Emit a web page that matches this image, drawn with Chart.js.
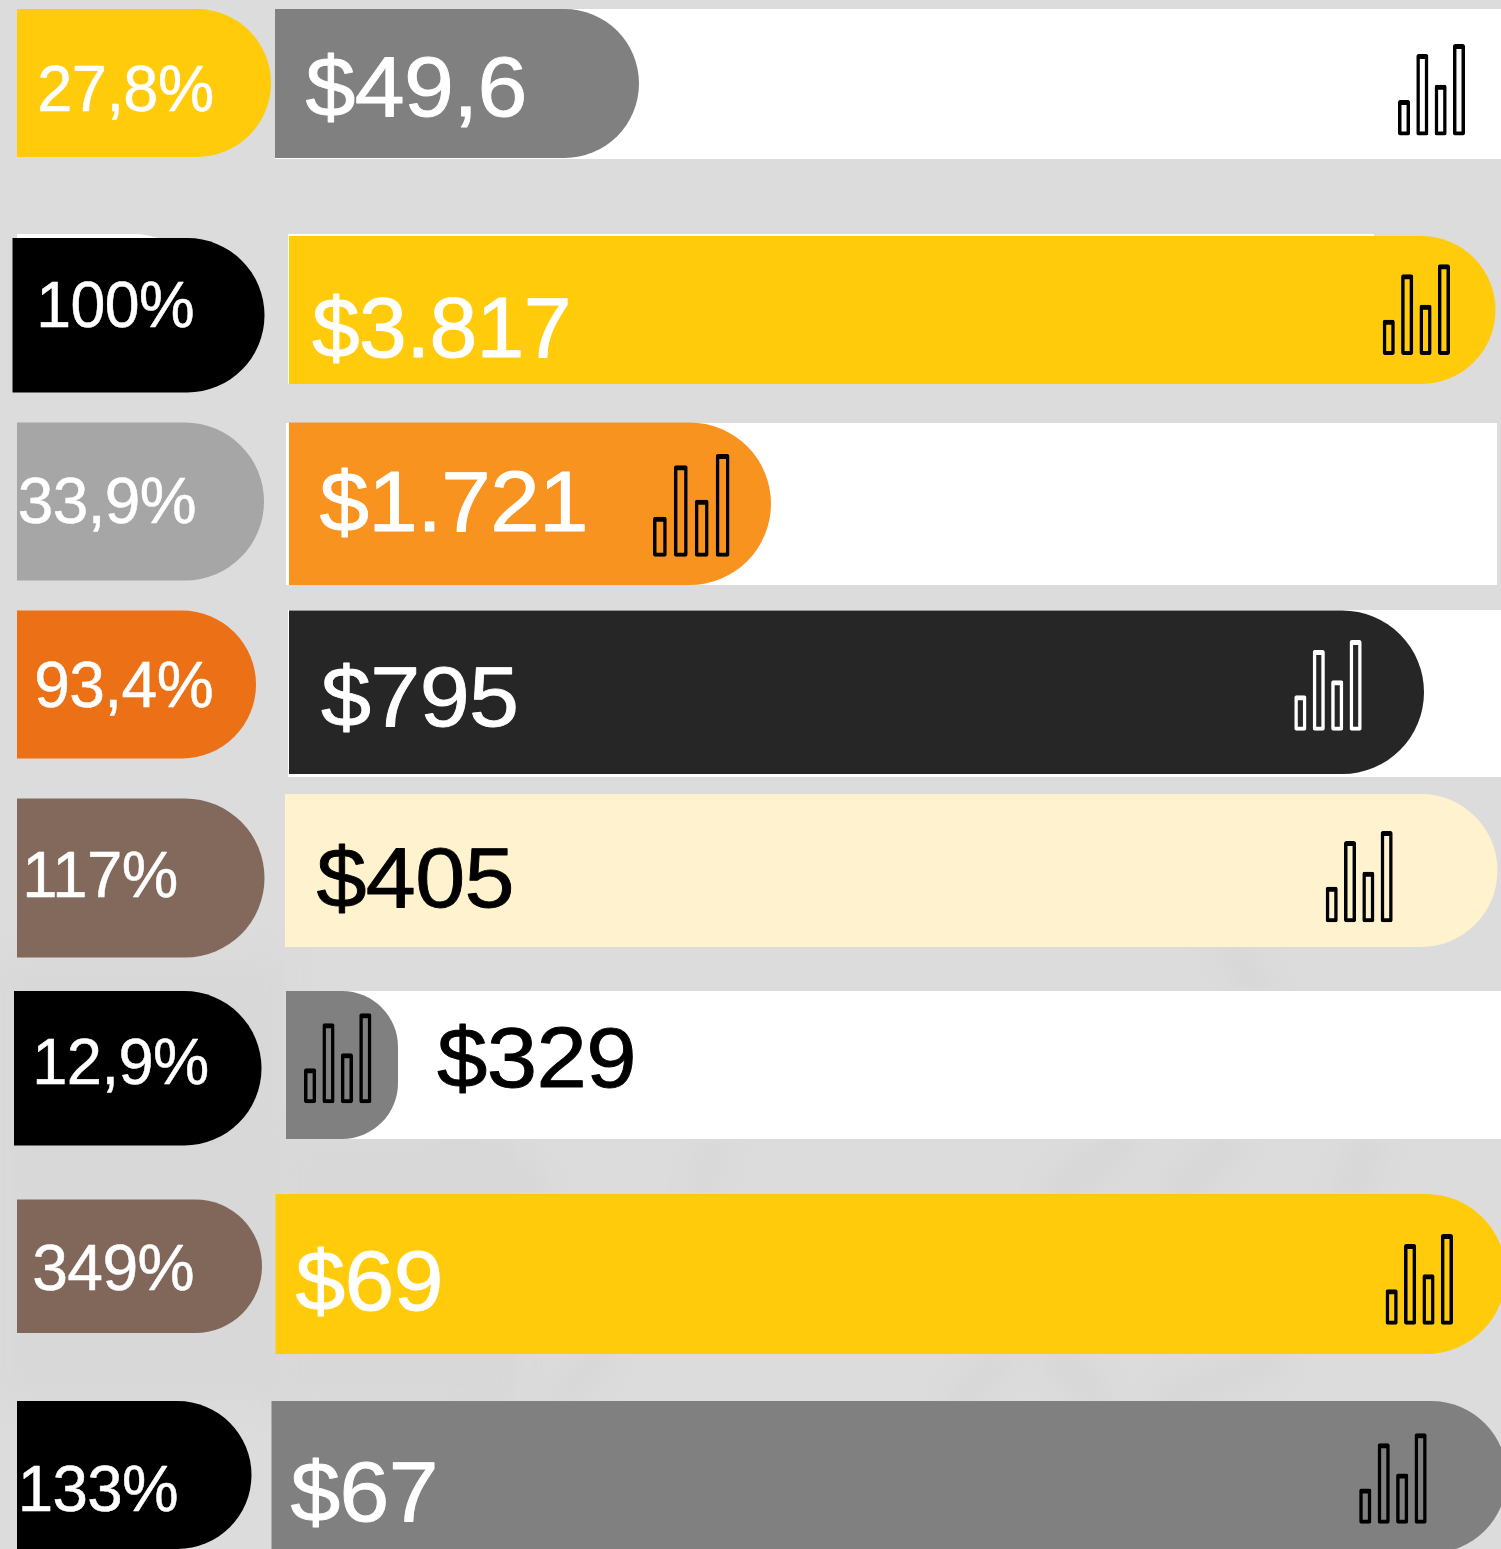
<!DOCTYPE html>
<html><head><meta charset="utf-8">
<script src="https://cdn.jsdelivr.net/npm/chart.js@4"></script>
<style>html,body{margin:0;padding:0;background:#dcdcdc}canvas{display:block}</style>
</head><body><canvas id="c" width="1501" height="1549"></canvas>
<script>
// ---- text values
const percentLabels = ['27,8%','100%','33,9%','93,4%','117%','12,9%','349%','133%'];
const dollarLabels  = ['$49,6','$3.817','$1.721','$795','$405','$329','$69','$67'];
// ---- bar extents
const pillStart  = [17,12.5,17,17,17,14,17,17];
const pillEnd    = [271,264.5,264,256,264.5,261.5,262,251.5];
const valueStart = [275,289,289,289,285,286,275.5,271.5];
const valueEnd   = [639,1495.5,771,1424,1497.5,398,1506,1507];
const trackStart = [275,288,286,288,null,286,null,null];
const trackEnd   = [1501,1374,1497,1501,null,1501,null,null];
// ---- vertical layout (top / bottom of each bar)
const pillTop     = [9,238,422.5,610.5,798.5,991,1199.5,1401];
const pillBottom  = [157,392.5,580.5,758.5,957.5,1145.5,1333,1549];
const valueTop    = [9,236,422.5,610.5,794,991,1194,1401];
const valueBottom = [158,384,585,774,947,1139,1354,1553];
const trackTop    = [9,234,423,610,null,991,null,null];
const trackBottom = [159,384,585,777,null,1139,null,null];
// ---- styles
const pillColors  = ['#FFCB0A','#000000','#A6A6A6','#EC7016','#82695B','#000000','#806759','#000000'];
const valueColors = ['#808080','#FFCB0A','#F9931F','#262626','#FFF2CE','#808080','#FFCB0A','#808080'];
const dollarText  = ['#fff','#fff','#fff','#fff','#000','#000','#fff','#fff'];
const iconColors  = ['#000','#000','#000','#fff','#000','#000','#000','#000'];
// ---- text layout: left, right, baseline
const pctLeft  = [40,40,19.5,37,26,36,34,21.5];
const pctRight = [212.5,193,195,212,176.5,207.5,193,177];
const pctBase  = [111,326.5,522.5,706.5,896.5,1084,1289.5,1510.5];
const valLeft  = [305,311.5,319,320.5,316,436.5,295,290];
const valRight = [525,568,585,516.5,512,633,440,435];
const valBase  = [115.5,356.5,530.5,725.5,907,1087,1310,1521];
// ---- icon layout: left, right, top, bottom
const iconLeft   = [1398,1382.7,653,1294.3,1325.7,304,1385.6,1359.2];
const iconRight  = [1465,1450,729.5,1361.7,1392.7,371.4,1453,1426.7];
const iconTop    = [44,264.3,454,640,831,1013.3,1234,1433.3];
const iconBottom = [135.6,355,556.7,730.7,922.3,1103.3,1324.7,1523.7];
const iconBarHeights = [0.39,0.89,0.555,1];   // share of the icon's height
// ---- faint watermark strokes in the page background: x0,y0,x1,y1,width
const smudges = [
  [1060,1190,1120,1145,34],[1180,1190,1225,1145,34],[1350,1190,1370,1145,30],
  [960,1400,1000,1360,26],[1060,1360,1095,1395,30],[1170,1400,1270,1360,30],
  [560,1400,600,1355,26],[700,1190,715,1145,20],[460,1145,540,1190,22],
  [1230,950,1260,990,26],[505,1360,480,1400,18]
];
const shadeZones = [[0,960,285,440],[285,1140,230,260]];

const list = [];
function bar(x0,x1,t,b,color,r,extra){
  list.push(Object.assign({
    data:[{x:[x0,x1],y:(t+b)/2}],
    barThickness:b-t,
    backgroundColor:color,
    borderSkipped:false,
    inflateAmount:0,
    borderWidth:0,
    borderRadius:{topLeft:0,bottomLeft:0,topRight:r,bottomRight:r}
  },extra||{}));
}
// white pill hidden behind the black one on the second row
bar(17,210,234,388,'#ffffff',77);
percentLabels.forEach((_,i)=>{
  if(trackStart[i]!==null) bar(trackStart[i],trackEnd[i],trackTop[i],trackBottom[i],'#ffffff',0);
  bar(pillStart[i],pillEnd[i],pillTop[i],pillBottom[i],pillColors[i],(pillBottom[i]-pillTop[i])/2);
  bar(valueStart[i],valueEnd[i],valueTop[i],valueBottom[i],valueColors[i],(valueBottom[i]-valueTop[i])/2);
});
percentLabels.forEach((_,i)=>{
  const w=iconRight[i]-iconLeft[i], h=iconBottom[i]-iconTop[i], bw=w*0.18, gap=(w-bw)/3;
  iconBarHeights.forEach((share,k)=>{
    const x0=iconLeft[i]+gap*k;
    list.push({
      data:[{x:[x0,x0+bw],y:iconBottom[i]-share*h/2}],
      barThickness:share*h,
      backgroundColor:'rgba(0,0,0,0)',
      borderColor:iconColors[i],
      borderSkipped:false,
      inflateAmount:0,
      borderWidth:{left:3.5,right:3.5,top:5,bottom:4},
      borderRadius:2
    });
  });
});
list.forEach((d,i)=>{d.order=list.length-i;});

const backdrop={id:'backdrop',beforeDraw(ch){
  const c=ch.ctx;
  c.save();
  c.fillStyle='#dcdcdc'; c.fillRect(0,0,1501,1549);
  c.filter='blur(14px)';
  c.fillStyle='#d8d8d8';
  shadeZones.forEach(z=>c.fillRect(z[0],z[1],z[2],z[3]));
  c.filter='blur(12px)';
  c.strokeStyle='#d7d7d7'; c.lineCap='round';
  smudges.forEach(s=>{c.lineWidth=s[4];c.beginPath();c.moveTo(s[0],s[1]);c.lineTo(s[2],s[3]);c.stroke();});
  c.restore();
}};
function fitText(ch,str,left,right,base,size,color,weight,track){
  const c=ch.ctx,X=ch.scales.x,Y=ch.scales.y;
  c.save();
  c.font=size+'px "Liberation Sans"';
  c.letterSpacing=track+'px';
  c.fillStyle=color; c.strokeStyle=color; c.lineWidth=weight; c.lineJoin='round';
  c.textAlign='left'; c.textBaseline='alphabetic';
  const m=c.measureText(str);
  const ink=m.actualBoundingBoxRight+m.actualBoundingBoxLeft+weight;
  const sx=(X.getPixelForValue(right)-X.getPixelForValue(left))/ink;
  c.translate(X.getPixelForValue(left),Y.getPixelForValue(base));
  c.scale(sx,1);
  c.fillText(str,m.actualBoundingBoxLeft+weight/2,0);
  c.strokeText(str,m.actualBoundingBoxLeft+weight/2,0);
  c.restore();
}
const labelsPlugin={id:'labels',afterDatasetsDraw(ch){
  percentLabels.forEach((s,i)=>{
    fitText(ch,s,pctLeft[i],pctRight[i],pctBase[i],64,'#ffffff',0.5,-0.6);
    fitText(ch,dollarLabels[i],valLeft[i],valRight[i],valBase[i],86,dollarText[i],0.9,-0.6);
  });
}};
new Chart(document.getElementById('c'),{
  type:'bar',
  data:{datasets:list},
  options:{
    indexAxis:'y',responsive:false,animation:false,
    layout:{padding:0},
    plugins:{legend:{display:false},tooltip:{enabled:false}},
    scales:{
      x:{type:'linear',min:0,max:1501,display:false,stacked:false,offset:false},
      y:{type:'linear',min:0,max:1549,reverse:true,display:false,stacked:true,offset:false}
    }
  },
  plugins:[backdrop,labelsPlugin]
});
</script></body></html>
